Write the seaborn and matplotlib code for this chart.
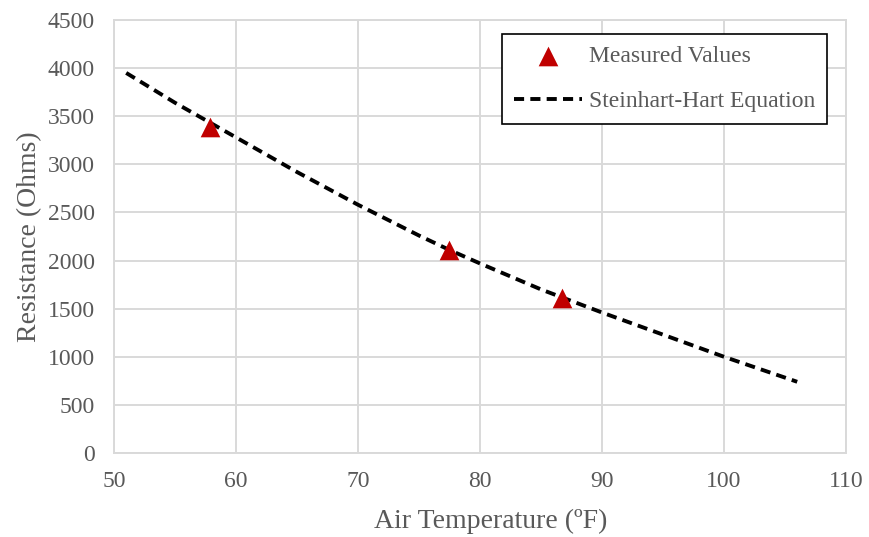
import matplotlib
matplotlib.use("Agg")
import matplotlib.pyplot as plt
import seaborn as sns
import pandas as pd

# Measured thermistor readings
measured_temp = [57.9, 77.5, 86.7]
measured_res = [3390, 2105, 1610]

# Steinhart-Hart curve points
curve_temp = [51, 55, 60, 65, 70, 75, 77.5, 80, 85, 90, 95, 100, 106]
curve_res = [3950, 3640, 3280, 2920, 2580, 2260, 2110, 1970, 1700, 1460, 1230, 1000, 740]

x_ticks = [50, 60, 70, 80, 90, 100, 110]
y_ticks = [0, 500, 1000, 1500, 2000, 2500, 3000, 3500, 4000, 4500]

sns.set_theme(style="white")
plt.rcParams["font.family"] = ["Liberation Serif", "DejaVu Serif"]

text_color = "#595959"
grid_color = "#d9d9d9"

fig = plt.figure(figsize=(8.7, 5.37), dpi=100)
ax = fig.add_axes([114 / 870, 1 - 453 / 537, (846 - 114) / 870, (453 - 20) / 537])

curve_df = pd.DataFrame({"temp": curve_temp, "res": curve_res})
meas_df = pd.DataFrame({"temp": measured_temp, "res": measured_res})

sns.lineplot(data=curve_df, x="temp", y="res", ax=ax, color="black",
             linewidth=2.8, linestyle=(0, (2.6, 1.6)), label="Steinhart-Hart Equation",
             zorder=3, sort=False)
sns.scatterplot(data=meas_df, x="temp", y="res", ax=ax, marker="^", s=200,
                color="#c00000", edgecolor="#c00000", linewidth=0,
                label="Measured Values", zorder=4)

ax.set_xlim(50, 110)
ax.set_ylim(0, 4500)
ax.set_xticks(x_ticks)
ax.set_yticks(y_ticks)
ax.grid(True, color=grid_color, linewidth=1.4)
ax.set_axisbelow(True)
for s in ax.spines.values():
    s.set_color(grid_color)
    s.set_linewidth(1.4)

ax.tick_params(axis="both", length=0, labelsize=17, labelcolor=text_color)
ax.tick_params(axis="x", pad=13)
ax.tick_params(axis="y", pad=14)
ax.set_xlabel("Air Temperature (ºF)", fontsize=20, color=text_color)
ax.xaxis.set_label_coords(0.515, -0.128)
ax.set_ylabel("Resistance (Ohms)", fontsize=20, color=text_color, labelpad=4)

handles, labels = ax.get_legend_handles_labels()
order = [labels.index("Measured Values"), labels.index("Steinhart-Hart Equation")]
leg = ax.legend([handles[i] for i in order], [labels[i] for i in order],
                loc="upper right", bbox_to_anchor=(839 / 870, 1 - 22 / 537),
                bbox_transform=fig.transFigure, fontsize=17, frameon=True,
                fancybox=False, edgecolor="black", framealpha=1,
                handlelength=2.9, borderpad=0.5, labelspacing=1.0, handletextpad=0.3)
leg.get_frame().set_linewidth(1.2)
for t in leg.get_texts():
    t.set_color(text_color)

fig.savefig("out.png", dpi=100)
